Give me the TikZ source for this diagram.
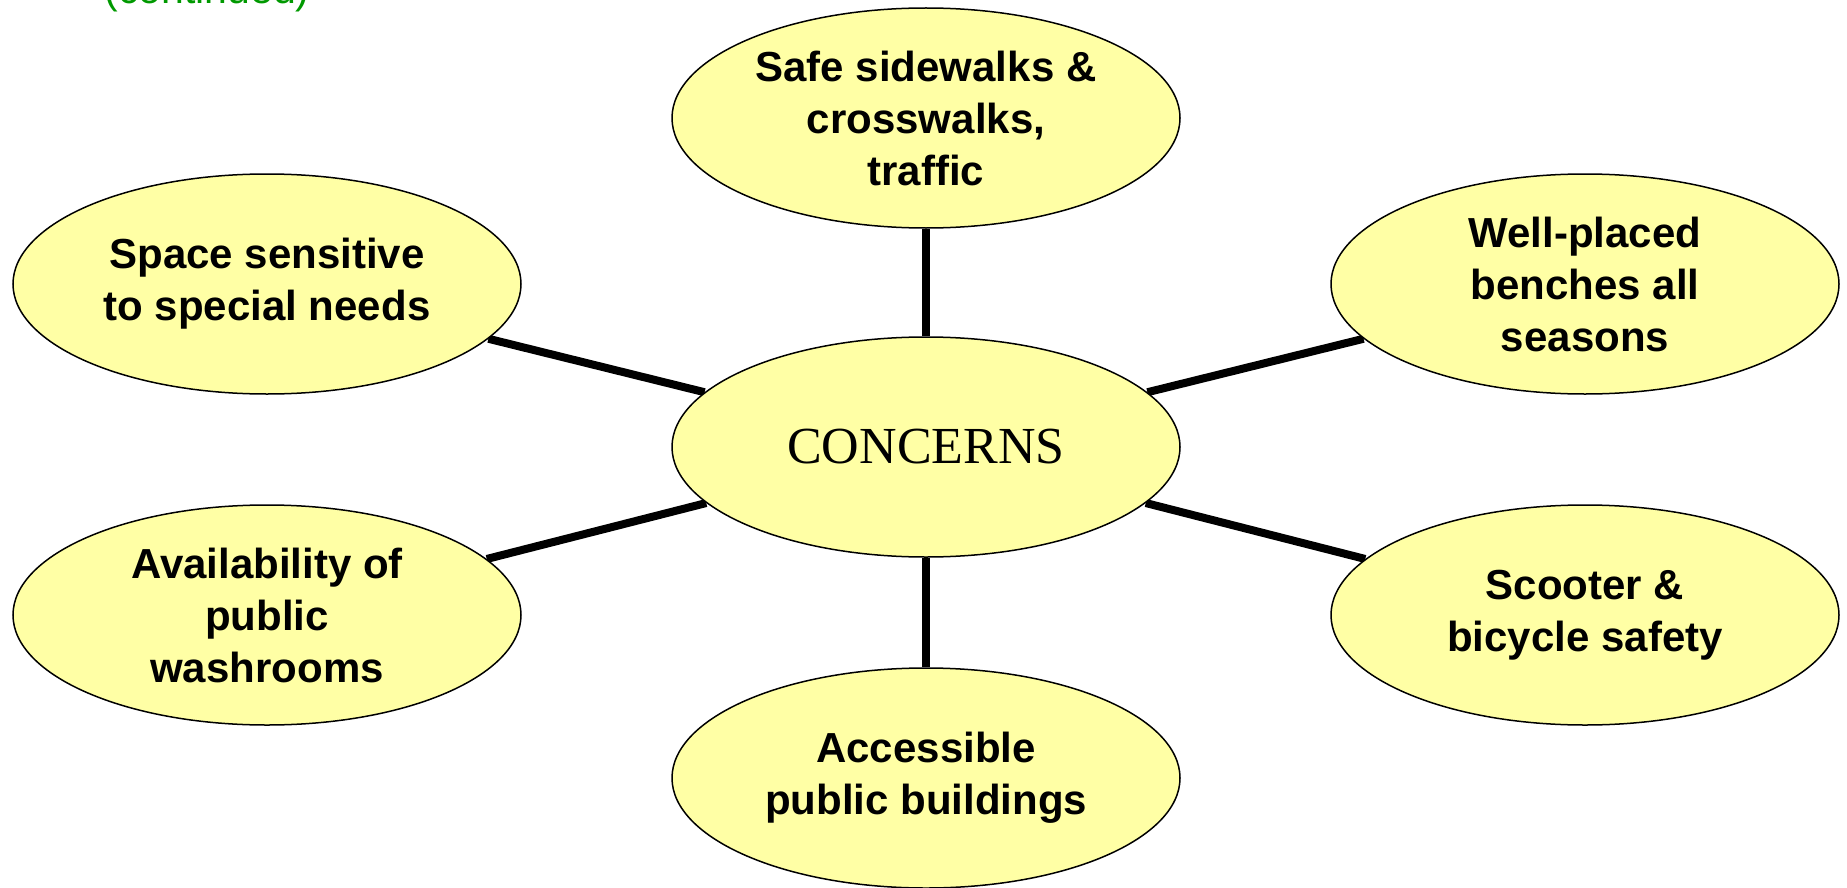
\documentclass[tikz,border=0pt]{standalone}
\usepackage{fontspec}
\setmainfont{Liberation Sans}
\newfontfamily\serifTNR{Liberation Serif}
\usetikzlibrary{shapes.geometric,backgrounds}
\definecolor{ellfill}{RGB}{255,255,165}
\definecolor{contgreen}{RGB}{0,153,0}
\begin{document}
\begin{tikzpicture}[x=0.5pt,y=-0.5pt,
  concern/.style={ellipse, draw=black, line width=0.75pt, fill=ellfill,
    minimum width=254pt, minimum height=110pt, inner sep=0pt, align=center,
    font=\fontsize{21}{26}\selectfont\bfseries},
  hub/.style={concern, font=\fontsize{26}{30}\selectfont\serifTNR},
  link/.style={line width=4pt, draw=black}]
\useasboundingbox (0,0) rectangle (1847,888);
\node[anchor=base west, text=contgreen, inner sep=0pt,
  font=\fontsize{20.5}{24}\selectfont] (cont) at (104,4) {(continued)};
\node[hub] (c) at (926,447) {CONCERNS};
\node[concern] (t) at (926,118) {Safe sidewalks \&\\crosswalks,\\traffic};
\node[concern] (b) at (926,778) {Accessible\\public buildings};
\node[concern] (lt) at (267,284) {Space sensitive\\to special needs};
\node[concern] (rt) at (1585,284) {Well-placed\\benches all\\seasons};
\node[concern] (lb) at (267,615) {Availability of\\public\\washrooms};
\node[concern] (rb) at (1585,615) {Scooter \&\\bicycle safety};
\begin{scope}[on background layer]
\draw[link] (c) -- (t);
\draw[link] (c) -- (b);
\draw[link] (c) -- (lt);
\draw[link] (c) -- (rt);
\draw[link] (c) -- (lb);
\draw[link] (c) -- (rb);
\end{scope}
\end{tikzpicture}
\end{document}
